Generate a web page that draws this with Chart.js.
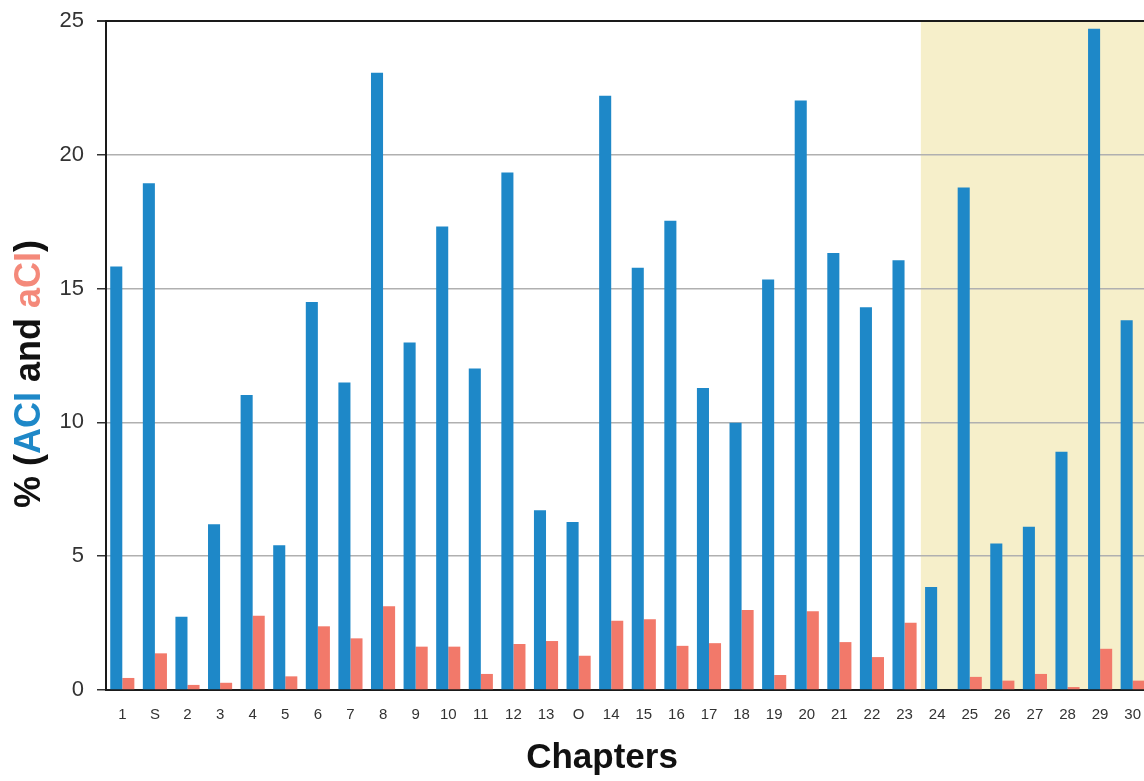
<!DOCTYPE html>
<html>
<head>
<meta charset="utf-8">
<script src="https://cdn.jsdelivr.net/npm/chart.js@4.4.1/dist/chart.umd.min.js"></script>
<style>
  html, body { margin: 0; padding: 0; background: #ffffff; overflow: hidden; width: 1144px; height: 781px; }
  #wrap { position: absolute; left: 0; top: 0; width: 1152px; height: 781px; }
  canvas { display: block; }
</style>
</head>
<body>
<div id="wrap"><canvas id="c" width="1152" height="781"></canvas></div>
<script>
// ---- Data ----
const categories = ['1','S','2','3','4','5','6','7','8','9','10','11','12','13','O','14','15','16','17','18','19','20','21','22','23','24','25','26','27','28','29','30'];
const aciValues = [15.83,18.94,2.74,6.19,11.02,5.41,14.50,11.49,23.07,12.99,17.32,12.01,19.34,6.72,6.28,22.21,15.78,17.54,11.29,9.99,15.34,22.03,16.33,14.30,16.06,3.85,18.78,5.47,6.10,8.90,24.71,13.82];
const aciLowerValues = [0.45,1.37,0.19,0.27,2.77,0.51,2.38,1.93,3.13,1.62,1.62,0.60,1.72,1.83,1.28,2.59,2.64,1.65,1.75,2.99,0.56,2.94,1.79,1.23,2.51,0,0.49,0.35,0.60,0.11,1.54,0.35];
const yTicks = [0, 5, 10, 15, 20, 25];
const shadeFromCategory = '24';
const xTitle = 'Chapters';
const yTitleParts = [
  { text: '% (', color: '#111111' },
  { text: 'ACI', color: '#1e88c8' },
  { text: ' and ', color: '#111111' },
  { text: 'aCI', color: '#f4897a' },
  { text: ')', color: '#111111' }
];

const BLUE = '#1e88c8';
const RED = '#f2796a';
const SHADE = '#f6efca';
const FONT = '"Liberation Sans", Arial, Helvetica, sans-serif';

const shadePlugin = {
  id: 'shade',
  beforeDraw(chart) {
    const { ctx, chartArea, scales } = chart;
    const x = scales.x;
    const idx = categories.indexOf(shadeFromCategory);
    const left = (x.getPixelForValue(idx - 1) + x.getPixelForValue(idx)) / 2;
    ctx.save();
    ctx.fillStyle = SHADE;
    ctx.fillRect(left, chartArea.top, chartArea.right - left, chartArea.bottom - chartArea.top);
    ctx.restore();
  }
};

const titlesPlugin = {
  id: 'titles',
  afterDraw(chart) {
    const { ctx } = chart;
    ctx.save();
    // x title
    ctx.font = 'bold 35px ' + FONT;
    ctx.fillStyle = '#111111';
    ctx.textAlign = 'center';
    ctx.textBaseline = 'middle';
    ctx.fillText(xTitle, 602, 758);
    // y title (rotated, multicolored)
    ctx.translate(30, 374);
    ctx.rotate(-Math.PI / 2);
    ctx.font = 'bold 36px ' + FONT;
    let total = 0;
    yTitleParts.forEach(p => total += ctx.measureText(p.text).width);
    let cx = -total / 2;
    ctx.textAlign = 'left';
    yTitleParts.forEach(p => {
      ctx.fillStyle = p.color;
      ctx.fillText(p.text, cx, 0);
      cx += ctx.measureText(p.text).width;
    });
    ctx.restore();
  }
};

new Chart(document.getElementById('c'), {
  type: 'bar',
  data: {
    labels: categories,
    datasets: [
      { label: 'ACI', data: aciValues, backgroundColor: BLUE, borderWidth: 0 },
      { label: 'aCI', data: aciLowerValues, backgroundColor: RED, borderWidth: 0 }
    ]
  },
  options: {
    responsive: false,
    animation: false,
    events: [],
    layout: { padding: { left: 0, top: 21, right: 3, bottom: 0 } },
    datasets: { bar: { categoryPercentage: 0.74, barPercentage: 1.0 } },
    plugins: { legend: { display: false }, tooltip: { enabled: false } },
    scales: {
      x: {
        grid: { display: false, drawTicks: false },
        border: { display: true, color: '#1a1a1a', width: 2 },
        ticks: { color: '#333333', font: { family: FONT, size: 15 }, padding: 16, maxRotation: 0, autoSkip: false },
        afterFit(s) { s.height = 91; s.paddingLeft = 0; s.paddingRight = 0; }
      },
      y: {
        min: 0, max: 25,
        afterBuildTicks(s) { s.ticks = yTicks.map(v => ({ value: v })); },
        grid: {
          color: c => (c.tick && c.tick.value === 25) ? '#1a1a1a' : '#b0b0b0',
          lineWidth: c => (c.tick && c.tick.value === 25) ? 2 : 1.5,
          tickColor: '#333333',
          tickLength: 9
        },
        border: { display: true, color: '#1a1a1a', width: 2 },
        ticks: { color: '#333333', font: { family: FONT, size: 22 }, padding: 13 },
        afterFit(s) { s.width = 106; s.paddingTop = 0; s.paddingBottom = 0; }
      }
    }
  },
  plugins: [shadePlugin, titlesPlugin]
});
</script>
</body>
</html>
